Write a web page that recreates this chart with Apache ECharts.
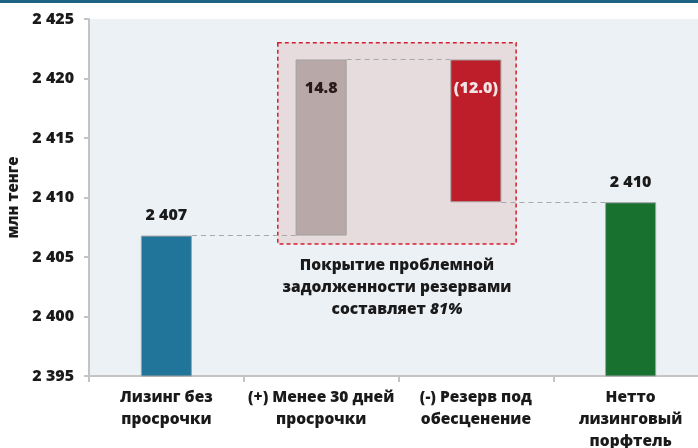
<!DOCTYPE html>
<html>
<head>
<meta charset="utf-8">
<script src="https://cdn.jsdelivr.net/npm/echarts@6/dist/echarts.min.js"></script>
<style>
  html, body { margin: 0; padding: 0; background: #fff; }
  #chart { width: 698px; height: 448px; }
</style>
</head>
<body>
<div id="chart"></div>
<script>
// данные водопада
var categories = ['Лизинг без\nпросрочки', '(+) Менее 30 дней\nпросрочки', '(-) Резерв под\nобесценение', 'Нетто\nлизинговый\nпорфтель'];
var totals = [2406.8, null, null, 2409.6];
var deltas = [null, 14.8, -12.0, null];
var barColors = ['#21759b', '#b9a8a8', '#be1d2a', '#18712f'];
var yTicks = [2395, 2400, 2405, 2410, 2415, 2420, 2425];
var noteLines = ['Покрытие проблемной', 'задолженности резервами', 'составляет '];
var noteShare = '81%';

function fmt(v) {
  var s = String(Math.round(v));
  return s.replace(/\B(?=(\d{3})+(?!\d))/g, ' ');
}

// базы и видимые части
var base = [], visible = [], level = 0;
for (var i = 0; i < categories.length; i++) {
  if (totals[i] != null) {
    base.push(0);
    visible.push(totals[i]);
    level = totals[i];
  } else {
    var next = level + deltas[i];
    var lo = Math.min(level, next), hi = Math.max(level, next);
    base.push(lo);
    visible.push(hi - lo);
    level = next;
  }
}

var barW = 0.33; // доля ширины категории
// соединительные линии между столбцами
var levels = [];
var lv = 0;
for (var k = 0; k < categories.length; k++) {
  lv = totals[k] != null ? totals[k] : lv + deltas[k];
  levels.push(lv);
}
var connectors = [];
for (var j = 0; j < categories.length - 1; j++) {
  connectors.push([
    { coord: [j + 0.5 + barW / 2, levels[j]] },
    { coord: [j + 1.5 - barW / 2, levels[j]] }
  ]);
}

var myChart = echarts.init(document.getElementById('chart'));
var font = '"Open Sans", "Noto Sans", sans-serif';
var fw = 800;
var fs = 15.5;

var option = {
  animation: false,
  textStyle: { fontFamily: font },
  graphic: [{
    type: 'rect',
    left: 0, top: 0,
    shape: { width: 698, height: 3 },
    style: { fill: '#1d6484' }
  }],
  grid: {
    left: 89, top: 19, right: -10, bottom: 72,
    outerBoundsMode: 'none',
    containLabel: false,
    show: true, backgroundColor: '#ecf1f5', borderWidth: 0
  },
  xAxis: [{
    type: 'category',
    data: categories,
    axisLine: { lineStyle: { color: '#c4c4c4', width: 2 } },
    axisTick: { show: true, length: 6, lineStyle: { color: '#c4c4c4', width: 2 } },
    axisLabel: {
      interval: 0, color: '#1a1a1a', fontWeight: fw, fontSize: fs,
      lineHeight: 22, margin: 11, fontFamily: font
    }
  }, {
    type: 'value', min: 0, max: 4, show: false
  }],
  yAxis: {
    type: 'value',
    min: yTicks[0], max: yTicks[yTicks.length - 1], interval: 5,
    name: 'млн тенге',
    nameLocation: 'middle',
    nameGap: 62,
    nameTextStyle: { color: '#1a1a1a', fontWeight: fw, fontSize: 15, fontFamily: font },
    axisLine: { show: true, lineStyle: { color: '#c4c4c4', width: 2 } },
    axisTick: { show: true, length: 5, lineStyle: { color: '#c4c4c4', width: 2 } },
    splitLine: { show: false },
    axisLabel: {
      color: '#1a1a1a', fontWeight: fw, fontSize: 16, margin: 15, fontFamily: font,
      formatter: function (v) { return fmt(v); }
    }
  },
  series: [{
    name: 'frame',
    type: 'line',
    xAxisIndex: 1,
    data: [],
    z: 1,
    markArea: {
      silent: true,
      itemStyle: { color: '#e7dcdd', borderColor: '#d11f2d', borderWidth: 1.5, borderType: [4, 3] },
      label: {
        show: true, position: 'bottom', distance: 10,
        formatter: '{a|' + noteLines[0] + '}\n{a|' + noteLines[1] + '}\n{a|' + noteLines[2] + '}{i|' + noteShare + '}',
        rich: {
          a: { fontWeight: fw, fontSize: fs, color: '#1a1a1a', lineHeight: 22, fontFamily: font },
          i: { fontWeight: fw, fontStyle: 'italic', fontSize: fs, color: '#1a1a1a', lineHeight: 22, fontFamily: font }
        }
      },
      data: [[{ coord: [1.22, 2423] }, { coord: [2.76, 2406.1] }]]
    },
    markLine: {
      silent: true, symbol: 'none',
      lineStyle: { color: '#a8a8a8', type: [5, 4], width: 1.2 },
      label: { show: false },
      data: connectors
    }
  }, {
    name: 'base',
    type: 'bar',
    stack: 'w',
    barWidth: (barW * 100) + '%',
    itemStyle: { color: 'transparent' },
    z: 2,
    data: base
  }, {
    name: 'value',
    type: 'bar',
    stack: 'w',
    barWidth: (barW * 100) + '%',
    z: 3,
    data: visible.map(function (v, i) {
      var isTotal = totals[i] != null;
      return {
        value: v,
        itemStyle: { color: barColors[i], borderColor: '#a2a2a2', borderWidth: 1 },
        label: isTotal ? {
          show: true, position: 'top', distance: 12,
          color: '#1a1a1a', fontWeight: fw, fontSize: 16, fontFamily: font,
          formatter: fmt(totals[i])
        } : {
          show: true, position: 'insideTop', distance: 21,
          color: deltas[i] < 0 ? '#f3e4e4' : '#2a1a1a', fontWeight: fw, fontSize: 16, fontFamily: font,
          formatter: deltas[i] < 0 ? '(' + Math.abs(deltas[i]).toFixed(1) + ')' : deltas[i].toFixed(1)
        }
      };
    })
  }]
};
myChart.setOption(option);
</script>
</body>
</html>
